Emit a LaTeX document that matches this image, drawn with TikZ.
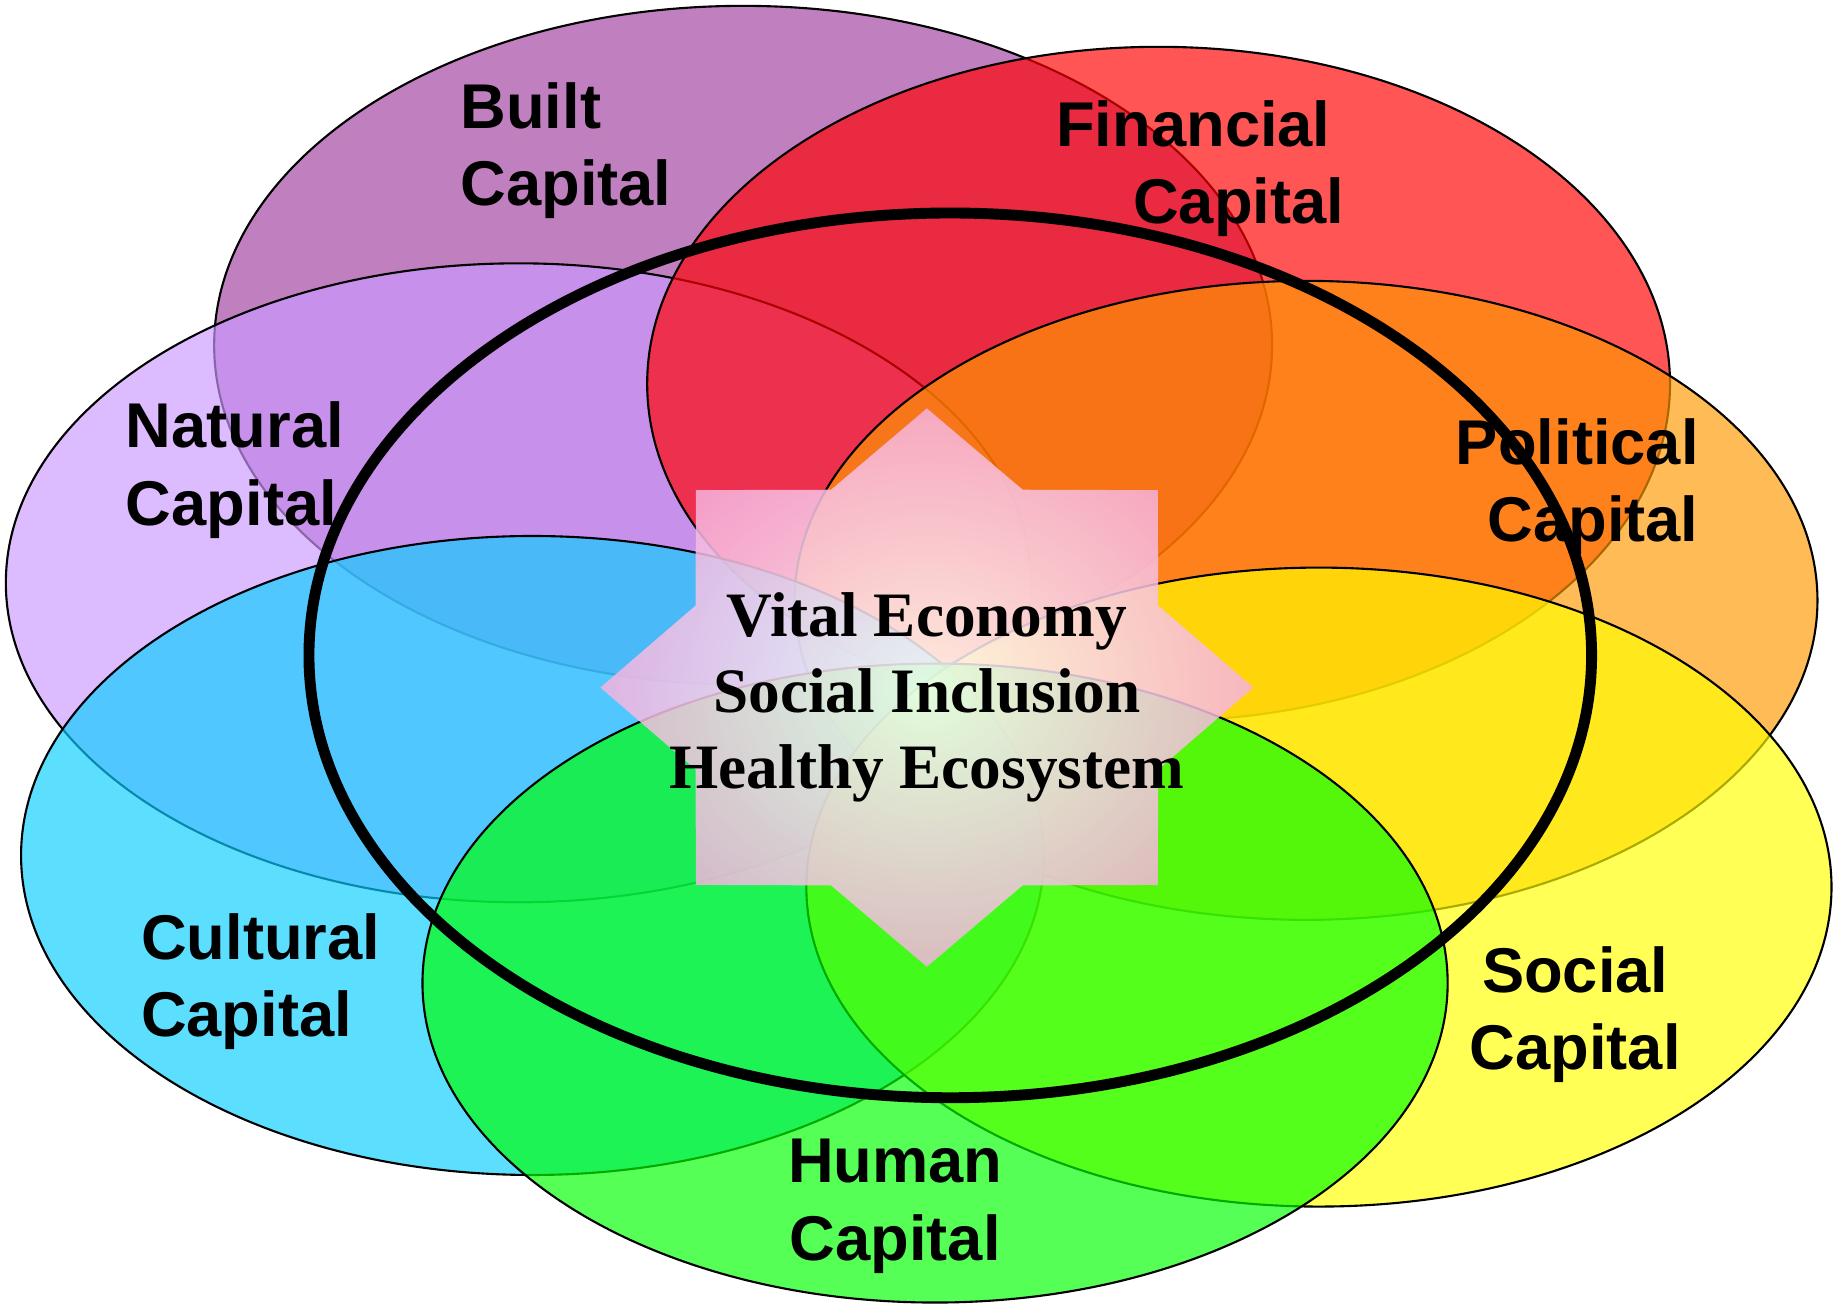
\documentclass[tikz,border=0pt]{standalone}
\usepackage{fontspec}
\usepackage{tikz}
\newfontfamily\capfont{Liberation Sans}
\newfontfamily\goalfont{Liberation Serif}
\definecolor{builtcol}{RGB}{160,65,160}
\definecolor{financialcol}{RGB}{255,0,0}
\definecolor{naturalcol}{RGB}{204,153,255}
\definecolor{politicalcol}{RGB}{255,153,0}
\definecolor{culturalcol}{RGB}{10,206,255}
\definecolor{socialcol}{RGB}{255,255,0}
\definecolor{humancol}{RGB}{0,255,0}
\definecolor{starpink}{RGB}{246,178,222}

\begin{document}
\begin{tikzpicture}[x=0.011703cm, y=-0.011703cm,
        capital/.style={draw=black, line width=0.6pt, fill opacity=0.667},
        capname/.style={font=\capfont\bfseries\fontsize{18}{22}\selectfont, inner sep=0pt},
        goal/.style={font=\goalfont\bfseries\fontsize{18}{21.6}\selectfont, align=center, inner sep=0pt}]
        \useasboundingbox (0,0) rectangle (1568,1115);

        \draw [capital, fill=builtcol] (635,295) ellipse [x radius=452, y radius=290]; % built
        \draw [capital, fill=naturalcol] (443,498) ellipse [x radius=438, y radius=273]; % natural
        \draw [capital, fill=financialcol] (990,328) ellipse [x radius=437, y radius=288]; % financial
        \draw [capital, fill=politicalcol] (1116,513) ellipse [x radius=437, y radius=273]; % political
        \draw [capital, fill=culturalcol] (455,731) ellipse [x radius=437, y radius=273]; % cultural
        \draw [capital, fill=socialcol] (1127,758) ellipse [x radius=438, y radius=273]; % social
        \draw [capital, fill=humancol] (799,840) ellipse [x radius=438, y radius=273]; % human

        \draw [line width=3.1pt] (812,560) ellipse [x radius=548, y radius=378]; % outer ring

        \begin{scope}[shift={(792,587.5)}, yscale=0.855]  % star
            \shade [inner color=white, outer color=starpink, fill opacity=0.85]
                (0:279) -- (22.5:214) -- (45:279) -- (67.5:214) -- (90:279) -- (112.5:214)
                -- (135:279) -- (157.5:214) -- (180:279) -- (202.5:214) -- (225:279)
                -- (247.5:214) -- (270:279) -- (292.5:214) -- (315:279) -- (337.5:214) -- cycle;
        \end{scope}

        \node [goal, anchor=north] (goals) at (792,506) {Vital Economy\\Social Inclusion\\Healthy Ecosystem};

        \node [capname, anchor=north west, align=left] (built) at (393,70) {Built\\Capital};
        \node [capname, anchor=north west, align=left] (financial) at (902,85) {Financial\\\hspace*{0.77cm}Capital};
        \node [capname, anchor=north west, align=left] (natural) at (107,343) {Natural\\Capital};
        \node [capname, anchor=north east, align=right] (political) at (1452,357) {Political\\Capital};
        \node [capname, anchor=north west, align=left] (cultural) at (120,780) {Cultural\\Capital};
        \node [capname, anchor=north, align=center] (social) at (1346,808) {Social\\Capital};
        \node [capname, anchor=north, align=center] (human) at (765,973) {Human\\Capital};
\end{tikzpicture}
\end{document}
